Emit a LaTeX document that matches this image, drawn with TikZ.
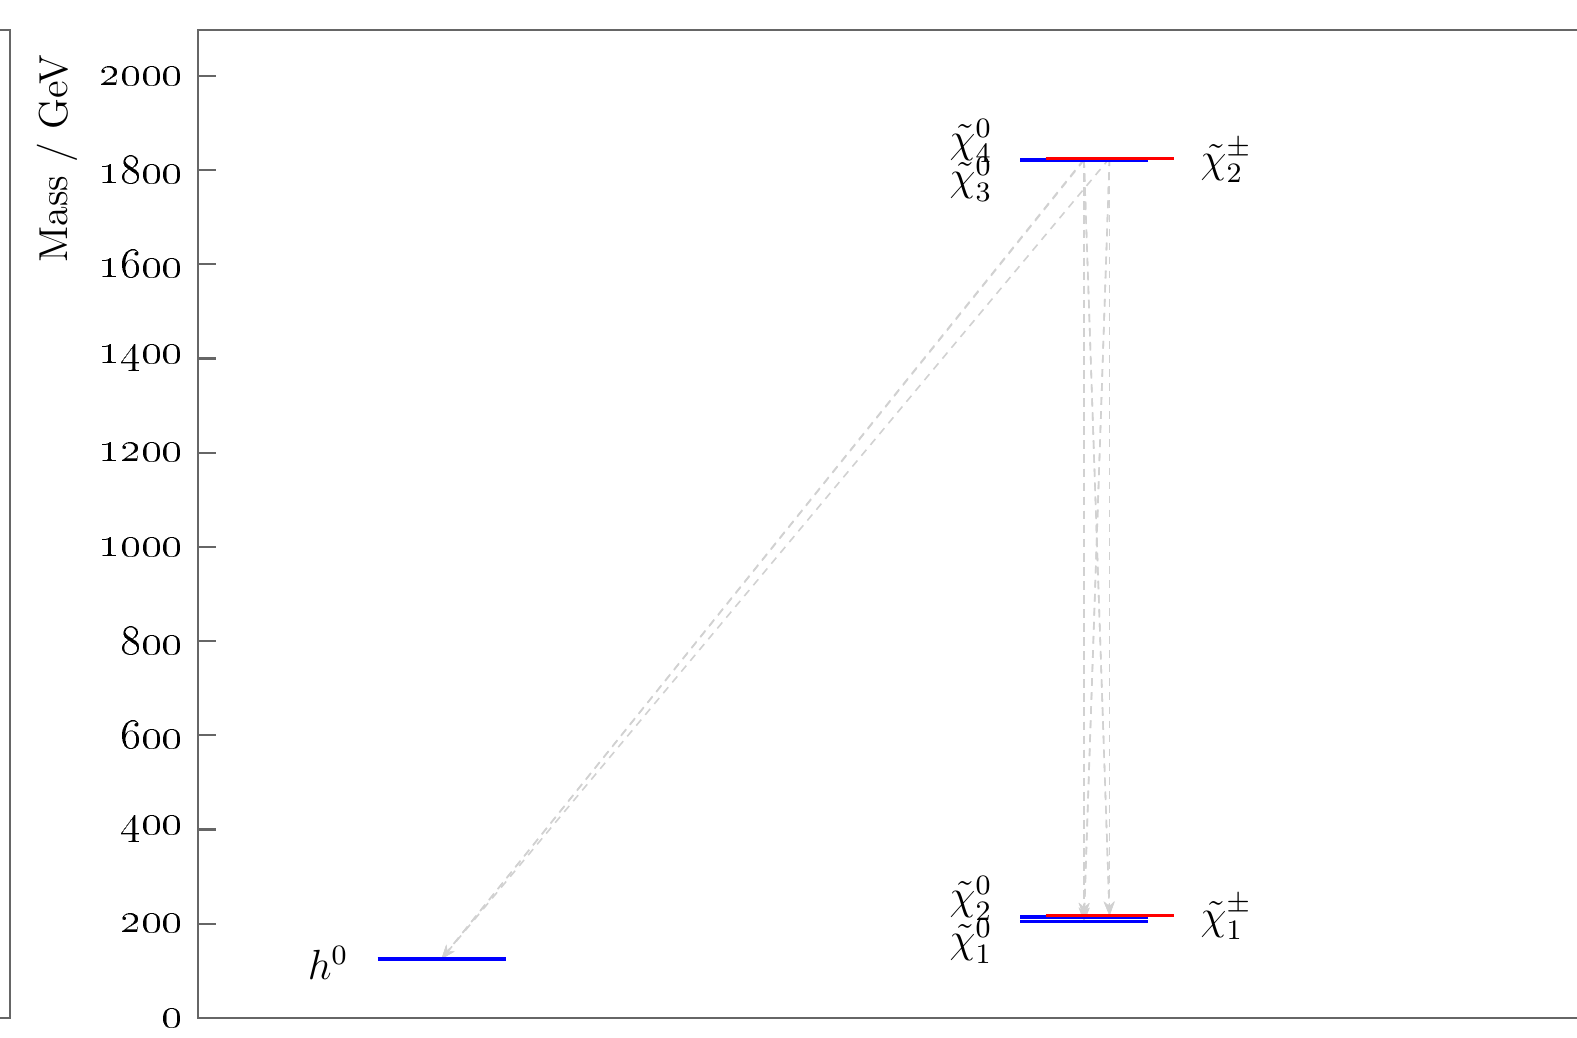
\documentclass[tikz,border=0pt]{standalone}
\usepackage{amssymb,amsmath}
\usepackage{tikz}
\usetikzlibrary{arrows.meta}

\tikzset{
  frame/.style={black!60, line width=0.6pt},
  neut/.style={blue, line width=0.95pt},
  charg/.style={red, line width=0.9pt},
  decay/.style={black!18, line width=0.45pt, dash pattern=on 2.2pt off 1.8pt, -{Stealth[length=4pt,width=3pt]}},
  lab/.style={inner sep=0pt}
}

\begin{document}
\begin{tikzpicture}[>=stealth, x=1cm, y=0.0471mm, font=\fontsize{11.5}{14}\selectfont]
		\def\hw{0.64}   % half width of a level
		\def\xa{1.98}   % position of mass axis
		\useasboundingbox (0,-42.5) rectangle (15.77,2161);
		% frames
		\draw[frame] (0,2098) -- (0.10,2098) -- (0.10,0) -- (0,0);
		\draw[frame] (15.77,2098) -- (\xa,2098) -- (\xa,0) -- (15.77,0);
		% mass axis
		\foreach \m in {0,200,...,2000} {
			\draw[frame] (\xa,\m) -- (\xa+0.18,\m);
			\node[lab, anchor=east, font=\fontsize{12}{14}\selectfont] (t\m) at (1.83,\m) {\oldstylenums{\m}};
		}
		\node[rotate=90] (ylab) at (0.575,1824) {Mass / GeV};
		% states
		\coordinate (h0) at (4.415,125);
		\coordinate (N1) at (10.84,204);
		\coordinate (N2) at (10.84,214);
		\coordinate (C1) at (11.095,217);
		\coordinate (N3) at (10.84,1821);
		\coordinate (N4) at (10.84,1823);
		\coordinate (C2) at (11.095,1825);
		% decays
		\foreach \a in {N3,N4,C2} {
			\foreach \b in {h0,N1,N2,C1}
				\draw[decay] (\a) -- (\b);
		}
		% levels
		\foreach \s in {h0,N1,N2,N3,N4}
			\draw[neut] ([xshift=-\hw cm]\s) -- ([xshift=\hw cm]\s);
		\foreach \s in {C1,C2}
			\draw[charg] ([xshift=-\hw cm]\s) -- ([xshift=\hw cm]\s);
		% labels
		\node[lab, anchor=east] (lh0) at (3.49,117) {$h^0$};
		\node[lab, anchor=east] (lN4) at (9.93,1862) {$\tilde{\chi}_4^0$};
		\node[lab, anchor=east] (lN3) at (9.93,1780) {$\tilde{\chi}_3^0$};
		\node[lab, anchor=west] (lC2) at (12.00,1820) {$\tilde{\chi}_2^\pm$};
		\node[lab, anchor=east] (lN2) at (9.93,254) {$\tilde{\chi}_2^0$};
		\node[lab, anchor=east] (lN1) at (9.93,163) {$\tilde{\chi}_1^0$};
		\node[lab, anchor=west] (lC1) at (12.00,214) {$\tilde{\chi}_1^\pm$};
	\end{tikzpicture}
\end{document}
